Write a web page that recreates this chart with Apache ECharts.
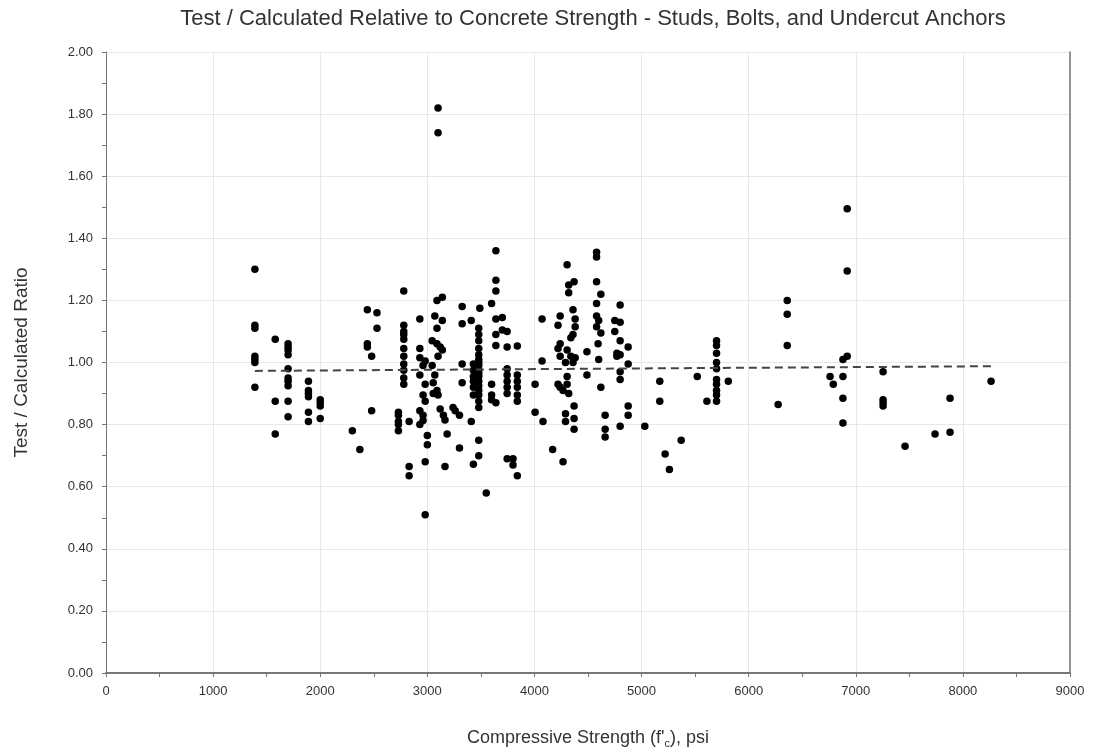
<!DOCTYPE html>
<html>
<head>
<meta charset="utf-8">
<script src="https://cdn.jsdelivr.net/npm/echarts@6/dist/echarts.min.js"></script>
<style>html,body{margin:0;padding:0;background:#fff}#c{width:1093px;height:754px}</style>
</head>
<body>
<div id="c"></div>
<script>
// Compressive strength (psi) of each column of tests
const strengths = [1390,1580,1700,1890,2000,2300,2370,2440,2480,2530,2730,2780,2830,2930,2960,2980,3000,3045,3055,3070,3090,3100,3120,3140,3150,3165,3185,3240,3260,3300,3325,3410,3430,3480,3490,3550,3600,3640,3700,3745,3800,3840,4006,4071,4080,4170,4220,4240,4267,4290,4305,4320,4340,4360,4370,4380,4490,4580,4594,4600,4620,4660,4750,4770,4800,4875,5030,5170,5220,5260,5370,5520,5610,5700,5810,6275,6360,6760,6790,6880,6920,7255,7460,7740,7880,8263];
// Test / calculated ratios observed at each strength above
const ratios = [
 [1.30,1.12,1.11,1.02,1.01,1.00,0.92],
 [1.075,0.875,0.77],
 [1.06,1.05,1.04,1.025,0.98,0.95,0.94,0.925,0.875,0.825],
 [0.94,0.91,0.90,0.89,0.84,0.81],
 [0.88,0.87,0.86,0.82],
 [0.78],
 [0.72],
 [1.17,1.06,1.05],
 [1.02,0.845],
 [1.16,1.11],
 [0.84,0.83,0.81,0.80,0.78],
 [1.23,1.12,1.10,1.09,1.075,1.045,1.02,0.995,0.975,0.95,0.93],
 [0.81,0.665,0.635],
 [1.14,1.045,1.015,0.96,0.845,0.80],
 [0.99,0.895,0.83,0.813],
 [1.005,0.93,0.875,0.68,0.51],
 [0.765,0.735],
 [1.07,0.99],
 [0.935,0.90],
 [1.15,0.96],
 [1.20,1.11,1.06,0.91],
 [1.82,1.74,1.02,0.895],
 [1.05,0.85],
 [1.21,1.135,1.04],
 [0.83],
 [0.815,0.665],
 [0.77],
 [0.855],
 [0.845],
 [0.725,0.83],
 [1.18,1.125,0.995,0.935],
 [1.135,0.81],
 [0.995,0.975,0.955,0.94,0.92,0.895,0.672],
 [1.11,1.09,1.07,1.045,1.025,1.01,1.0,0.99,0.975,0.965,0.955,0.94,0.925,0.91,0.895,0.875,0.855,0.75,0.70],
 [1.175],
 [0.58],
 [1.19,0.93,0.895,0.88],
 [1.36,1.265,1.23,1.14,1.09,1.055,0.87],
 [1.145,1.105],
 [1.10,1.05,0.98,0.96,0.94,0.92,0.90,0.69],
 [0.69,0.67],
 [1.053,0.96,0.94,0.92,0.895,0.875,0.635],
 [0.93,0.84],
 [1.14,1.005],
 [0.81],
 [0.72],
 [1.12,1.045,0.93],
 [1.15,1.06,1.02,0.92],
 [0.68,0.91],
 [1.0,0.835,0.81],
 [1.315,1.04,0.93,0.955],
 [1.25,1.225,0.90],
 [1.08,1.02],
 [1.17,1.09,1.0],
 [1.26,0.86,0.82,0.785],
 [1.14,1.115,1.015],
 [1.035,0.96],
 [1.355,1.34,1.26,1.19,1.15,1.115],
 [1.06],
 [1.135,1.01],
 [1.22,1.095,0.92],
 [0.83,0.785,0.76],
 [1.135,1.10],
 [1.03,1.02],
 [1.185,1.13,1.07,1.025,0.97,0.945,0.795],
 [1.05,0.995,0.86,0.83],
 [0.795],
 [0.94,0.875],
 [0.705],
 [0.655],
 [0.75],
 [0.955],
 [0.875],
 [1.07,1.055,1.03,1.0,0.98,0.945,0.93,0.91,0.895,0.875],
 [0.94],
 [0.865],
 [1.20,1.155,1.055],
 [0.955],
 [0.93],
 [1.01,0.955,0.885,0.805],
 [1.495,1.295,1.02],
 [0.97,0.88,0.87,0.86],
 [0.73],
 [0.77],
 [0.885,0.775],
 [0.94]
];
// Linear trend line end points
const trendX = [1390, 8263];
const trendY = [0.973, 0.988];

const points = [];
strengths.forEach((s, i) => ratios[i].forEach(r => points.push([s, r])));
const trend = trendX.map((x, i) => [x, trendY[i]]);

const FONT = '"Liberation Sans", Arial, sans-serif';
const chart = echarts.init(document.getElementById('c'), null, {renderer: 'canvas'});
chart.setOption({
  animation: false,
  backgroundColor: '#fff',
  textStyle: {fontFamily: FONT},
  title: {
    text: 'Test / Calculated Relative to Concrete Strength - Studs, Bolts, and Undercut Anchors',
    left: 588, top: 3, textAlign: 'center',
    textStyle: {fontFamily: FONT, fontSize: 22, fontWeight: 'normal', color: '#333'}
  },
  grid: {left: 106, right: 23, top: 52, bottom: 77, containLabel: false},
  xAxis: {
    type: 'value', min: 0, max: 9000, interval: 1000,
    name: "Compressive Strength (f'{s|c}), psi",
    nameLocation: 'middle', nameGap: 54,
    nameTextStyle: {fontFamily: FONT, fontSize: 18, color: '#333', rich: {s: {fontFamily: FONT, fontSize: 11, verticalAlign: 'bottom', padding: [11,0,0,0], color: '#333'}}},
    axisLine: {lineStyle: {color: '#777', width: 2}},
    axisTick: {show: true, length: 4, lineStyle: {color: '#777'}},
    minorTick: {show: true, splitNumber: 2, length: 4, lineStyle: {color: '#777'}},
    axisLabel: {fontFamily: FONT, fontSize: 13, color: '#333', margin: 12, formatter: v => String(v)},
    splitLine: {show: true, lineStyle: {color: '#e8e8e8', width: 1}}
  },
  yAxis: [{
    type: 'value', min: 0, max: 2, interval: 0.2,
    name: 'Test / Calculated Ratio',
    nameLocation: 'middle', nameGap: 75, nameRotate: 90,
    nameTextStyle: {fontFamily: FONT, fontSize: 19, color: '#333'},
    axisLine: {show: true, lineStyle: {color: '#777'}},
    axisTick: {show: true, length: 4, lineStyle: {color: '#777'}},
    minorTick: {show: true, splitNumber: 2, length: 4, lineStyle: {color: '#777'}},
    axisLabel: {fontFamily: FONT, fontSize: 13, color: '#333', margin: 13, formatter: v => v.toFixed(2)},
    splitLine: {show: true, lineStyle: {color: '#e8e8e8', width: 1}}
  }, {
    type: 'value', min: 0, max: 2, position: 'right',
    axisLine: {show: true, lineStyle: {color: '#777', width: 1.5}},
    axisTick: {show: false}, axisLabel: {show: false}, splitLine: {show: false}
  }],
  series: [{
    type: 'scatter', data: points, symbolSize: 7.5,
    itemStyle: {color: '#000', opacity: 1}, z: 3
  }, {
    type: 'line', data: trend, symbol: 'none',
    lineStyle: {color: '#444', width: 2, type: [8, 5]}, z: 4
  }]
});
</script>
</body>
</html>
